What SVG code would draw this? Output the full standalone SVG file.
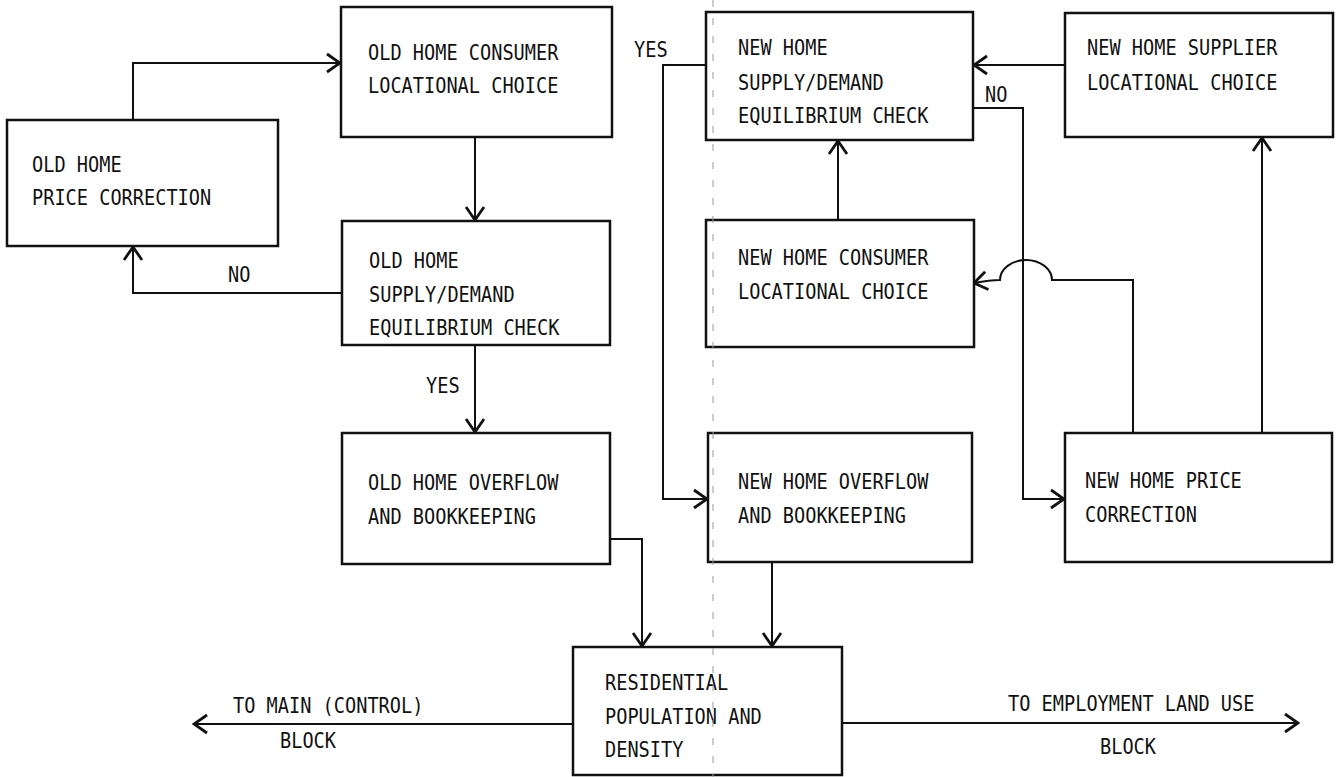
<svg xmlns="http://www.w3.org/2000/svg" width="1343" height="777" viewBox="0 0 1343 777">
<style>
  .box { fill: #fff; stroke: #111; stroke-width: 2.5; }
  .t { font-family: "DejaVu Sans Mono", "Liberation Mono", monospace; font-size: 22px; fill: #111; }
  .c { fill: none; stroke: #111; stroke-width: 2; }
  .scan { fill: none; stroke: #9a9a9a; stroke-width: 1; stroke-dasharray: 7 11; }
</style>
<defs>
  <marker id="ah" viewBox="-16 -11 18 22" refX="0" refY="0" markerWidth="18" markerHeight="22" markerUnits="userSpaceOnUse" orient="auto">
    <path d="M-13,-9 L0,0 L-13,9" fill="none" stroke="#111" stroke-width="2.8"/>
  </marker>
</defs>
<rect width="1343" height="777" fill="#fff"/>

<g id="connectors">
  <path class="c" d="M133,120 V63 H340" marker-end="url(#ah)"/>
  <path class="c" d="M475,137 V220" marker-end="url(#ah)"/>
  <path class="c" d="M342,293 H133 V247" marker-end="url(#ah)"/>
  <path class="c" d="M475,345 V432" marker-end="url(#ah)"/>
  <path class="c" d="M610,539 H642 V646" marker-end="url(#ah)"/>
  <path class="c" d="M772,562 V646" marker-end="url(#ah)"/>
  <path class="c" d="M573,724 H194" marker-end="url(#ah)"/>
  <path class="c" d="M842,723 H1298" marker-end="url(#ah)"/>
  <path class="c" d="M706,65 H663 V499 H707" marker-end="url(#ah)"/>
  <path class="c" d="M973,108 H1023 V499 H1064" marker-end="url(#ah)"/>
  <path class="c" d="M1065,65 H974" marker-end="url(#ah)"/>
  <path class="c" d="M838,220 V141" marker-end="url(#ah)"/>
  <path class="c" d="M1133,433 V280 H1052 A26 20 0 0 0 1000,280 Q990,280 974,283" marker-end="url(#ah)"/>
  <path class="c" d="M1262,433 V138" marker-end="url(#ah)"/>
  <text class="t" x="228" y="282" textLength="22.4" lengthAdjust="spacingAndGlyphs">NO</text>
  <text class="t" x="426" y="393" textLength="33.6" lengthAdjust="spacingAndGlyphs">YES</text>
  <text class="t" x="634" y="57" textLength="33.6" lengthAdjust="spacingAndGlyphs">YES</text>
  <text class="t" x="985" y="102" textLength="22.4" lengthAdjust="spacingAndGlyphs">NO</text>
  <text class="t" x="233" y="713" textLength="190.4" lengthAdjust="spacingAndGlyphs">TO MAIN (CONTROL)</text>
  <text class="t" x="280" y="748" textLength="56" lengthAdjust="spacingAndGlyphs">BLOCK</text>
  <text class="t" x="1008" y="711" textLength="246.4" lengthAdjust="spacingAndGlyphs">TO EMPLOYMENT LAND USE</text>
  <text class="t" x="1100" y="754" textLength="56" lengthAdjust="spacingAndGlyphs">BLOCK</text>
</g>

<g id="old-price-correction">
  <rect class="box" x="7" y="120" width="271" height="126"/>
  <text class="t" x="32" y="172" textLength="89.6" lengthAdjust="spacingAndGlyphs">OLD HOME</text>
  <text class="t" x="32" y="205" textLength="179.2" lengthAdjust="spacingAndGlyphs">PRICE CORRECTION</text>
</g>

<g id="old-consumer-choice">
  <rect class="box" x="341" y="7" width="271" height="130"/>
  <text class="t" x="368" y="60" textLength="190.4" lengthAdjust="spacingAndGlyphs">OLD HOME CONSUMER</text>
  <text class="t" x="368" y="93" textLength="190.4" lengthAdjust="spacingAndGlyphs">LOCATIONAL CHOICE</text>
</g>

<g id="old-equilibrium-check">
  <rect class="box" x="342" y="221" width="268" height="124"/>
  <text class="t" x="369" y="268" textLength="89.6" lengthAdjust="spacingAndGlyphs">OLD HOME</text>
  <text class="t" x="369" y="302" textLength="145.6" lengthAdjust="spacingAndGlyphs">SUPPLY/DEMAND</text>
  <text class="t" x="369" y="335" textLength="190.4" lengthAdjust="spacingAndGlyphs">EQUILIBRIUM CHECK</text>
</g>

<g id="old-overflow">
  <rect class="box" x="342" y="433" width="268" height="131"/>
  <text class="t" x="368" y="490" textLength="190.4" lengthAdjust="spacingAndGlyphs">OLD HOME OVERFLOW</text>
  <text class="t" x="368" y="524" textLength="168" lengthAdjust="spacingAndGlyphs">AND BOOKKEEPING</text>
</g>

<g id="new-equilibrium-check">
  <rect class="box" x="706" y="12" width="267" height="128"/>
  <text class="t" x="738" y="55" textLength="89.6" lengthAdjust="spacingAndGlyphs">NEW HOME</text>
  <text class="t" x="738" y="90" textLength="145.6" lengthAdjust="spacingAndGlyphs">SUPPLY/DEMAND</text>
  <text class="t" x="738" y="123" textLength="190.4" lengthAdjust="spacingAndGlyphs">EQUILIBRIUM CHECK</text>
</g>

<g id="new-supplier-choice">
  <rect class="box" x="1065" y="13" width="268" height="124"/>
  <text class="t" x="1087" y="55" textLength="190.4" lengthAdjust="spacingAndGlyphs">NEW HOME SUPPLIER</text>
  <text class="t" x="1087" y="90" textLength="190.4" lengthAdjust="spacingAndGlyphs">LOCATIONAL CHOICE</text>
</g>

<g id="new-consumer-choice">
  <rect class="box" x="706" y="220" width="268" height="127"/>
  <text class="t" x="738" y="265" textLength="190.4" lengthAdjust="spacingAndGlyphs">NEW HOME CONSUMER</text>
  <text class="t" x="738" y="299" textLength="190.4" lengthAdjust="spacingAndGlyphs">LOCATIONAL CHOICE</text>
</g>

<g id="new-overflow">
  <rect class="box" x="708" y="433" width="264" height="129"/>
  <text class="t" x="738" y="489" textLength="190.4" lengthAdjust="spacingAndGlyphs">NEW HOME OVERFLOW</text>
  <text class="t" x="738" y="523" textLength="168" lengthAdjust="spacingAndGlyphs">AND BOOKKEEPING</text>
</g>

<g id="new-price-correction">
  <rect class="box" x="1065" y="433" width="267" height="129"/>
  <text class="t" x="1085" y="488" textLength="156.8" lengthAdjust="spacingAndGlyphs">NEW HOME PRICE</text>
  <text class="t" x="1085" y="522" textLength="112" lengthAdjust="spacingAndGlyphs">CORRECTION</text>
</g>

<g id="residential-population">
  <rect class="box" x="573" y="647" width="269" height="128"/>
  <text class="t" x="605" y="690" textLength="123.2" lengthAdjust="spacingAndGlyphs">RESIDENTIAL</text>
  <text class="t" x="605" y="724" textLength="156.8" lengthAdjust="spacingAndGlyphs">POPULATION AND</text>
  <text class="t" x="605" y="757" textLength="78.4" lengthAdjust="spacingAndGlyphs">DENSITY</text>
</g>

<path class="scan" d="M713,0 V777"/>
</svg>
